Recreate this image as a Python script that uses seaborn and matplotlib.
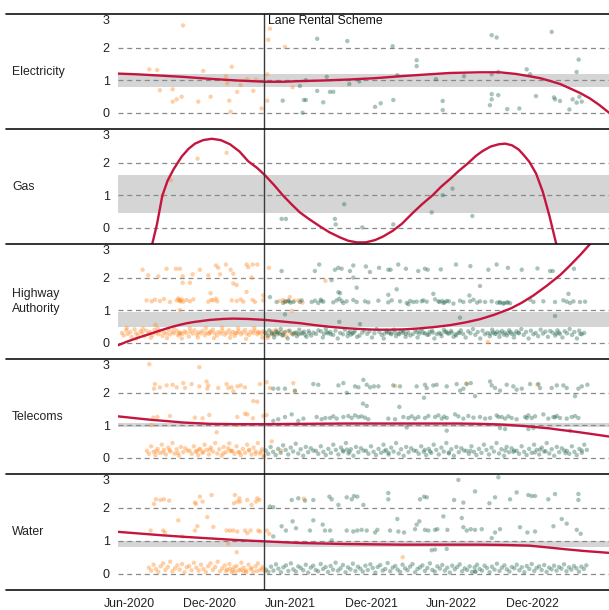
import matplotlib
matplotlib.use("Agg")
import matplotlib.pyplot as plt
from matplotlib.lines import Line2D
import pandas as pd
import seaborn as sns

# ---------------------------------------------------------------------------
# x axis is in months counted from 1 Jan 2020 (Jun-2020 = 5, Dec-2020 = 11 ...)
# ---------------------------------------------------------------------------
tick_months = [5, 11, 17, 23, 29, 35]
tick_labels = ["Jun-2020", "Dec-2020", "Jun-2021", "Dec-2021", "Jun-2022", "Dec-2022"]
scheme_start = 15.05
scheme_label = "Lane Rental Scheme"

utilities = ["Electricity", "Gas", "Highway\nAuthority", "Telecoms", "Water"]

# shaded reference range per utility
band_low = [0.80, 0.45, 0.48, 0.93, 0.82]
band_high = [1.18, 1.61, 0.94, 1.07, 1.00]

# smoothed trend per utility
elec_curve_m = [4.15, 5.5, 7.27, 9.0, 11.0, 13.0, 15.1, 16.5, 17.7, 19.5, 21.4, 23.3, 25.2, 27.0,
                28.9, 30.0, 31.1, 32.6, 33.8, 34.8, 35.6, 36.3, 37.1, 37.8, 38.6, 39.3, 40.0, 40.73]
elec_curve_v = [1.20, 1.18, 1.14, 1.10, 1.04, 0.99, 0.95, 0.95, 0.97, 0.99, 1.02, 1.06, 1.12, 1.17,
                1.22, 1.23, 1.24, 1.24, 1.19, 1.12, 1.06, 0.98, 0.88, 0.75, 0.60, 0.44, 0.24, 0.00]

gas_curve_m = [6.40, 6.70, 7.05, 7.45, 7.85, 8.30, 8.89, 9.40, 9.88, 10.50, 11.13, 11.80, 12.50,
               13.20, 13.85, 14.50, 15.10, 15.80, 16.44, 17.10, 17.70, 18.40, 19.20, 19.90, 20.70,
               21.30, 21.95, 22.60, 23.30, 23.90, 24.60, 25.30, 26.10, 26.80, 27.60, 28.20, 28.90,
               29.50, 30.20, 30.80, 31.30, 31.90, 32.50, 33.00, 33.50, 34.00, 34.40, 34.80, 35.30,
               35.80, 36.30, 36.80, 37.30]
gas_curve_v = [-0.80, -0.50, 0.10, 0.98, 1.45, 1.80, 2.18, 2.42, 2.58, 2.69, 2.73, 2.69, 2.56,
               2.34, 2.04, 1.84, 1.61, 1.30, 0.99, 0.71, 0.47, 0.26, 0.04, -0.14, -0.30,
               -0.40, -0.45, -0.45, -0.38, -0.27, -0.10, 0.12, 0.45, 0.72, 1.00, 1.25, 1.50,
               1.73, 1.97, 2.20, 2.35, 2.49, 2.56, 2.58, 2.53, 2.40, 2.22, 2.02, 1.66,
               1.10, 0.35, -0.50, -1.30]

hw_curve_m = [4.15, 4.8, 5.41, 6.0, 6.53, 7.1, 7.65, 8.2, 8.76, 9.3, 9.88, 11.0, 12.0, 12.7, 13.8,
              15.1, 16.4, 17.7, 18.8, 19.9, 21.0, 22.2, 23.3, 24.4, 25.5, 26.6, 27.7, 28.9, 30.0,
              31.1, 32.2, 33.4, 34.2, 35.1, 36.1, 37.1, 37.8, 38.6, 39.3, 39.9, 40.73]
hw_curve_v = [-0.08, 0.03, 0.12, 0.20, 0.27, 0.35, 0.42, 0.49, 0.55, 0.60, 0.64, 0.70, 0.73, 0.74,
              0.73, 0.70, 0.65, 0.60, 0.54, 0.49, 0.45, 0.42, 0.40, 0.40, 0.41, 0.44, 0.48, 0.54,
              0.62, 0.72, 0.86, 1.05, 1.22, 1.45, 1.75, 2.08, 2.36, 2.70, 3.02, 3.35, 3.85]

tc_curve_m = [4.15, 5.5, 6.7, 7.9, 9.0, 11.0, 13.0, 15.1, 18.0, 21.0, 24.0, 27.0, 29.5, 31.1, 32.6,
              33.4, 34.5, 35.5, 36.3, 37.0, 38.2, 39.4, 40.73]
tc_curve_v = [1.27, 1.21, 1.16, 1.12, 1.08, 1.04, 1.03, 1.03, 1.04, 1.05, 1.05, 1.05, 1.05, 1.04, 1.02,
              1.00, 0.97, 0.93, 0.90, 0.86, 0.80, 0.73, 0.65]

wt_curve_m = [4.15, 7.27, 9.0, 11.0, 13.0, 15.1, 17.7, 21.0, 25.2, 29.0, 31.1, 33.0, 34.8, 36.3,
              37.5, 38.8, 40.73]
wt_curve_v = [1.27, 1.17, 1.12, 1.07, 1.02, 0.98, 0.93, 0.90, 0.88, 0.88, 0.88, 0.87, 0.85, 0.79,
              0.74, 0.69, 0.63]

# ---------------------------------------------------------------------------
# incident ratings as (month, value); "pre" = before the scheme, "post" = after
# ---------------------------------------------------------------------------
elec_pre = [(9.00, 2.68), (6.48, 1.33), (7.07, 1.31), (7.27, 0.69), (8.22, 0.72), (8.22, 0.34),
            (8.52, 0.41), (8.89, 0.49), (10.13, 0.34), (10.50, 1.28), (11.05, 0.49), (12.19, 1.12),
            (12.29, 0.90), (12.44, 0.37), (12.54, 0.03), (12.62, 1.41), (13.03, 0.64), (13.29, 0.85),
            (13.78, 1.03), (14.23, 0.67), (14.43, 1.02), (14.85, 0.13), (15.27, 1.18), (15.27, 0.37),
            (15.35, 2.24), (15.47, 2.58), (16.59, 2.02), (17.16, 0.78)]
elec_post = [(16.42, 0.37), (17.70, 0.82), (18.00, 0.39), (17.90, 0.00), (18.99, 2.27), (21.23, 2.20),
             (24.61, 2.04), (26.40, 1.61), (26.40, 1.43), (18.15, 1.00), (19.70, 1.10), (18.99, 0.67),
             (19.94, 0.64), (20.19, 0.64), (18.15, 0.39), (19.44, 0.32), (21.38, 0.88), (22.13, 0.96),
             (23.30, 0.18), (23.72, 0.29), (24.66, 0.39), (24.96, 1.15), (27.84, 1.03), (28.34, 0.36),
             (28.34, 0.08), (29.93, 1.12), (31.99, 2.38), (32.36, 2.31), (31.99, 1.18), (32.48, 1.25),
             (31.99, 0.57), (31.99, 0.41), (32.48, 0.54), (31.86, 0.23), (33.15, 0.11), (34.05, 0.13),
             (34.60, 1.33), (34.85, 1.18), (35.29, 0.51), (36.46, 2.48), (36.63, 0.47), (36.71, 0.41),
             (37.08, 0.36), (37.78, 0.10), (38.02, 0.41), (38.32, 0.31), (38.32, 1.25), (38.47, 1.63),
             (38.70, 0.34), (38.52, 0.49)]

gas_pre = [(7.45, 0.98), (8.09, 1.46), (10.08, 2.12), (12.24, 2.30)]
gas_post = [(16.34, 0.27), (16.66, 0.27), (20.31, 0.27), (20.37, 0.10), (21.00, 0.72), (22.35, 0.01),
            (24.66, 0.10), (27.52, 0.47), (28.34, 1.00), (29.07, 1.20), (30.55, 0.36)]

hw_pre = [
    # upper cluster
    (5.98, 2.24), (6.40, 2.07), (7.15, 2.04), (7.77, 2.27), (8.47, 2.27), (8.76, 2.27), (8.97, 2.04),
    (9.71, 2.10), (10.25, 2.24), (10.88, 2.07), (11.45, 2.37), (11.62, 2.30), (11.75, 2.10),
    (12.19, 2.40), (12.54, 2.24), (12.74, 2.12), (13.73, 2.40), (13.85, 2.32), (14.18, 2.40),
    (14.53, 2.40), (14.10, 2.00), (12.74, 1.82), (12.99, 1.77), (8.97, 1.84), (9.51, 1.84),
    (15.40, 2.30), (19.60, 1.90),
    # middle cluster
    (6.28, 1.30), (6.66, 1.27), (6.90, 1.32), (7.27, 1.28), (7.57, 1.34), (8.02, 1.25), (8.52, 1.30),
    (8.64, 1.36), (8.76, 1.28), (8.89, 1.33), (9.01, 1.26), (9.26, 1.31), (9.51, 1.27), (9.76, 1.33),
    (10.88, 1.26), (11.05, 1.52), (11.25, 1.30), (11.45, 1.35), (11.54, 1.27), (12.62, 1.30),
    (12.99, 1.28), (13.29, 1.33), (13.48, 1.26), (13.73, 1.56), (14.18, 1.31), (14.35, 1.25),
    (14.97, 1.45), (8.70, 1.31), (8.82, 1.27), (11.10, 1.31), (14.97, 1.30), (8.76, 1.00),
    (6.95, 0.55), (16.20, 1.28), (16.45, 1.31), (16.70, 1.26), (16.95, 1.40), (17.30, 1.29),
    (17.60, 1.30), (16.60, 1.27), (17.90, 1.23), (17.10, 0.98),
    # lower cluster
    (4.45, .30), (4.58, .22), (4.77, .38), (4.88, .27), (5.06, .33), (5.17, .18), (5.38, .41),
    (5.49, .29), (5.63, .24), (5.84, .35), (5.93, .31), (6.12, .20), (6.24, .37), (6.43, .28),
    (6.52, .33), (6.71, .23), (6.86, .40), (6.98, .30), (7.17, .26), (7.28, .36), (7.47, .21),
    (7.58, .32), (7.76, .28), (7.92, .39), (8.03, .25), (8.21, .33), (8.33, .29), (8.52, .37),
    (8.63, .22), (8.81, .31), (8.94, .27), (9.12, .35), (9.23, .30), (9.42, .19), (9.53, .34),
    (9.72, .28), (9.84, .38), (10.03, .25), (10.13, .32), (10.32, .29), (10.44, .36), (10.62, .23),
    (10.73, .31), (10.92, .27), (11.04, .34), (11.22, .40), (11.33, .29), (11.52, .22), (11.63, .33),
    (11.82, .28), (11.93, .36), (12.12, .25), (12.23, .31), (12.42, .38), (12.53, .27), (12.72, .33),
    (12.84, .21), (13.02, .30), (13.13, .35), (13.32, .26), (13.43, .32), (13.62, .39), (13.73, .28),
    (13.92, .24), (14.03, .34), (14.22, .30), (14.33, .37), (14.52, .26), (14.63, .31), (14.82, .28),
    (14.93, .35), (4.80, .45), (5.50, .12), (6.00, .43), (6.60, .15), (7.10, .44), (7.80, .14),
    (8.30, .46), (8.90, .13), (9.50, .44), (10.10, .16), (10.70, .45), (11.30, .14), (11.90, .46),
    (12.50, .15), (13.10, .44), (13.70, .12), (14.30, .45), (14.90, .16), (8.70, .30), (8.75, .26),
    (11.00, .31), (12.90, .29), (14.60, .33), (15.20, .30), (15.40, .22), (15.60, .35), (15.80, .28),
    (16.00, .25), (16.30, .33), (16.50, .29), (16.80, .36), (17.00, .31), (17.20, .26), (17.50, .30),
    (15.30, .14), (15.90, .40), (16.70, .20), (31.70, 0.02)]

hw_post = [
    # upper cluster
    (16.34, 2.20), (18.82, 2.20), (19.14, 2.40), (20.31, 2.24), (20.56, 2.30), (20.81, 2.27),
    (21.43, 2.20), (21.68, 2.37), (22.62, 2.34), (22.92, 2.17), (24.29, 2.24), (24.46, 2.24),
    (25.03, 2.40), (25.60, 2.27), (26.52, 2.20), (27.02, 2.27), (27.22, 2.24), (29.33, 2.40),
    (31.74, 2.24), (32.36, 2.40), (34.23, 2.24), (36.34, 2.20), (36.54, 2.20), (38.12, 2.27),
    (20.06, 1.92), (21.68, 2.00), (21.93, 1.69), (24.91, 1.64), (31.12, 1.74), (23.60, 2.30),
    (28.20, 2.25), (30.40, 2.35), (33.20, 2.30), (35.40, 2.28),
    # middle cluster
    (15.47, 1.40), (15.97, 1.25), (16.46, 1.22), (16.59, 1.26), (16.83, 1.29), (17.21, 1.25),
    (17.71, 1.25), (17.83, 1.30), (18.58, 1.25), (18.83, 1.29), (19.07, 1.22), (19.25, 1.32),
    (19.45, 1.26), (20.19, 1.24), (20.44, 1.30), (20.64, 1.35), (20.81, 1.28), (20.94, 1.22),
    (21.18, 1.27), (21.68, 1.31), (21.93, 1.25), (22.55, 1.27), (23.55, 1.29), (24.29, 1.24),
    (24.54, 1.30), (25.16, 1.27), (25.66, 1.22), (25.78, 1.18), (25.91, 1.28), (26.15, 1.25),
    (26.78, 1.27), (26.90, 1.30), (27.15, 1.26), (27.77, 1.33), (28.02, 1.27), (28.39, 1.22),
    (28.64, 1.28), (29.14, 1.20), (29.63, 1.29), (29.88, 1.25), (30.38, 1.27), (30.63, 1.32),
    (31.12, 1.27), (31.50, 1.25), (31.99, 1.27), (32.61, 1.22), (32.86, 1.20), (33.11, 1.23),
    (33.36, 1.21), (34.85, 1.32), (35.10, 1.25), (35.84, 1.27), (36.71, 1.25), (37.33, 1.30),
    (37.58, 1.26), (37.83, 1.22), (38.08, 1.27), (38.57, 1.25), (38.95, 1.26), (20.57, 1.55),
    (20.69, 1.52), (24.29, 1.47), (27.64, 1.50), (30.33, 1.45), (37.71, 1.50), (20.64, 0.64),
    (22.18, 0.57), (29.63, 0.77), (36.71, 0.82), (16.59, 0.87), (28.10, 1.25), (28.30, 1.28),
    (28.50, 1.24), (28.80, 1.27), (32.40, 1.23), (32.60, 1.25), (32.90, 1.22), (33.20, 1.24),
    (16.90, 1.27), (17.00, 1.23), (19.30, 1.28), (22.80, 1.24), (26.40, 1.26), (30.90, 1.23),
    # lower cluster
    (15.12, .31), (15.30, .22), (15.41, .38), (15.63, .27), (15.78, .16), (15.92, .35), (16.10, .29),
    (16.27, .42), (16.45, .24), (16.58, .33), (16.79, .13), (16.93, .37), (17.15, .26), (17.28, .30),
    (17.47, .20), (17.66, .40), (17.80, .28), (18.02, .34), (18.19, .18), (18.36, .36), (18.55, .22),
    (18.71, .31), (18.90, .27), (19.08, .38), (19.27, .35), (19.41, .16), (19.63, .42), (19.80, .29),
    (19.96, .33), (20.18, .24), (20.35, .37), (20.52, .13), (20.70, .30), (20.91, .26), (21.05, .40),
    (21.26, .20), (21.43, .34), (21.61, .28), (21.80, .36), (21.97, .18), (22.14, .22), (22.35, .31),
    (22.50, .38), (22.72, .27), (22.88, .35), (23.07, .16), (23.25, .29), (23.41, .42), (23.62, .33),
    (23.79, .24), (23.95, .13), (24.16, .37), (24.33, .30), (24.50, .26), (24.70, .40), (24.86, .20),
    (25.05, .28), (25.23, .34), (25.40, .36), (25.58, .18), (25.77, .31), (25.93, .22), (26.12, .27),
    (26.30, .38), (26.47, .16), (26.66, .35), (26.82, .42), (27.01, .29), (27.19, .24), (27.36, .33),
    (27.55, .37), (27.72, .13), (27.90, .26), (28.08, .30), (28.26, .20), (28.43, .40), (28.62, .34),
    (28.80, .28), (28.97, .36), (29.15, .18), (29.33, .22), (29.52, .31), (29.69, .38), (29.87, .27),
    (30.05, .16), (30.24, .35), (30.41, .29), (30.60, .42), (30.77, .24), (30.95, .33), (31.14, .13),
    (31.31, .37), (31.49, .26), (31.68, .30), (31.85, .20), (32.03, .40), (32.21, .28), (32.40, .34),
    (32.57, .18), (32.75, .36), (32.94, .31), (33.11, .22), (33.29, .38), (33.48, .27), (33.65, .16),
    (33.83, .35), (34.01, .29), (34.20, .42), (34.37, .24), (34.55, .33), (34.74, .13), (34.91, .37),
    (35.10, .26), (35.27, .30), (35.45, .20), (35.64, .40), (35.81, .28), (35.99, .34), (36.18, .18),
    (36.35, .36), (36.53, .31), (36.72, .22), (36.89, .38), (37.07, .27), (37.26, .16), (37.43, .35),
    (37.61, .29), (37.80, .42), (37.97, .24), (38.15, .33), (38.34, .13), (38.51, .37), (38.70, .26),
    (38.88, .30), (15.60, .30), (15.80, .25), (16.00, .33), (16.20, .28), (16.40, .22), (17.40, .31),
    (17.60, .26), (17.90, .30), (18.10, .24), (18.40, .29), (19.50, .27), (19.70, .32), (20.00, .26),
    (21.30, .30), (21.50, .25), (21.70, .31), (24.00, .28), (24.20, .33), (24.50, .29), (24.80, .31),
    (25.10, .26), (25.40, .30), (25.60, .27), (26.40, .32), (26.60, .28), (26.90, .30), (27.30, .25),
    (27.60, .31), (28.20, .27), (28.50, .33), (28.70, .29), (29.00, .31), (29.30, .26), (29.60, .30),
    (31.90, .28), (32.10, .32), (32.30, .27), (32.60, .30), (32.90, .25), (33.20, .29), (33.40, .33),
    (33.70, .27), (34.00, .31), (36.80, .28), (37.00, .31), (38.60, .27)]

tc_pre = [
    (6.48, 2.87), (10.21, 2.78), (6.83, 2.12), (6.90, 2.26), (7.27, 2.16), (7.77, 2.22), (8.22, 2.24),
    (8.52, 2.16), (9.01, 2.29), (9.14, 2.14), (9.63, 2.26), (10.21, 2.19), (10.75, 2.34), (10.88, 2.22),
    (10.80, 2.12), (11.62, 2.14), (12.24, 2.26), (12.37, 2.14), (12.61, 2.16), (12.74, 2.04),
    (13.04, 2.19), (13.29, 2.22), (13.61, 2.16), (14.73, 2.26), (15.22, 2.32), (15.47, 2.14),
    (17.21, 2.29), (17.33, 2.04), (24.80, 2.20), (30.10, 2.28), (35.40, 2.24),
    (6.65, 1.00), (6.78, 1.23), (7.08, 1.25), (8.02, 1.28), (9.88, 1.23), (10.45, 1.21), (10.95, 1.31),
    (13.04, 1.25), (13.61, 1.35), (13.78, 1.33), (14.97, 1.28), (15.22, 1.31), (14.53, 1.72),
    (14.23, 1.74), (11.50, 0.78), (13.00, 1.00), (14.20, 1.21),
    (6.30, .21), (6.45, .12), (6.62, .35), (6.80, .18), (6.93, .08), (7.10, .27), (7.26, .15),
    (7.41, .40), (7.58, .24), (7.72, .10), (7.90, .31), (8.05, .19), (8.21, .45), (8.37, .13),
    (8.52, .26), (8.70, .06), (8.84, .33), (9.01, .17), (9.16, .29), (9.33, .22), (9.48, .21),
    (9.65, .12), (9.80, .35), (9.96, .18), (10.12, .08), (10.27, .27), (10.44, .15), (10.60, .40),
    (10.75, .24), (10.92, .10), (11.07, .31), (11.23, .19), (11.39, .45), (11.55, .13), (11.70, .26),
    (11.87, .06), (12.02, .33), (12.18, .17), (12.35, .29), (12.50, .22), (12.66, .21), (12.82, .12),
    (12.98, .35), (13.13, .18), (13.30, .08), (13.45, .27), (13.61, .15), (13.77, .40), (13.93, .24),
    (14.09, .10), (14.25, .31), (14.41, .19), (14.57, .45), (14.72, .13), (14.88, .26), (15.03, .06),
    (7.00, .20), (7.50, .16), (8.00, .23), (8.60, .14), (10.00, .21), (10.50, .18), (11.00, .25),
    (12.00, .13), (12.44, .44), (12.60, .20), (13.20, .16), (13.90, .22), (14.40, .12), (14.80, .18),
    (15.00, .03), (10.18, .25), (15.60, .50), (16.30, .22)]

tc_post = [
    # upper cluster
    (15.72, 2.12), (16.09, 2.12), (16.59, 2.12), (17.33, 2.06), (18.70, 2.26), (19.07, 2.24),
    (20.57, 2.22), (20.94, 2.29), (21.19, 1.99), (21.81, 2.19), (22.06, 2.16), (22.43, 2.39),
    (22.68, 2.24), (22.93, 2.16), (23.22, 2.19), (23.55, 2.19), (24.66, 2.22), (25.16, 2.19),
    (26.40, 2.19), (27.02, 2.24), (27.15, 2.14), (26.95, 1.84), (27.64, 2.22), (27.89, 2.24),
    (28.64, 2.19), (29.38, 2.26), (29.63, 2.06), (29.88, 2.12), (30.13, 2.26), (30.43, 2.29),
    (30.75, 1.89), (31.87, 2.34), (31.99, 2.22), (32.24, 2.14), (32.61, 2.06), (33.11, 2.24),
    (33.60, 2.19), (33.85, 2.09), (34.23, 2.12), (34.85, 2.26), (35.47, 2.26), (35.59, 2.14),
    (36.46, 2.14), (36.84, 2.22), (37.33, 2.22), (37.58, 2.14), (38.20, 1.89), (38.45, 2.12),
    (38.70, 2.19), (39.12, 2.24), (22.68, 1.59), (25.11, 1.56),
    # middle cluster
    (15.72, 1.13), (16.09, 1.18), (16.59, 1.25), (17.09, 1.33), (17.58, 1.13), (17.96, 1.20),
    (18.95, 1.25), (19.32, 1.18), (19.95, 1.22), (20.19, 1.27), (20.44, 1.20), (20.94, 1.25),
    (21.31, 1.28), (21.56, 1.22), (21.81, 1.30), (22.06, 1.25), (22.30, 1.27), (22.55, 1.23),
    (22.80, 1.18), (24.29, 1.20), (24.79, 1.18), (25.41, 1.25), (25.78, 1.22), (26.03, 1.27),
    (26.28, 1.20), (26.53, 1.25), (27.02, 1.22), (27.27, 1.28), (27.77, 1.25), (28.02, 1.30),
    (28.27, 1.20), (28.64, 1.22), (29.26, 1.33), (29.51, 1.27), (29.88, 1.20), (30.25, 1.28),
    (30.63, 1.23), (31.12, 1.25), (31.50, 1.20), (31.87, 1.22), (32.36, 1.30), (32.74, 1.25),
    (32.99, 1.20), (33.23, 1.27), (33.48, 1.22), (33.85, 1.18), (34.48, 1.25), (34.72, 1.30),
    (34.97, 1.22), (35.22, 1.27), (35.84, 1.33), (36.21, 1.20), (36.59, 1.25), (36.84, 1.28),
    (37.08, 1.22), (37.58, 1.20), (37.95, 1.25), (38.20, 1.28), (38.45, 1.22), (32.50, 1.25),
    (34.60, 1.22), (36.70, 1.24), (19.60, 1.22), (28.45, 1.26), (22.40, 1.66),
    (25.66, 0.93), (28.64, 0.83), (32.61, 0.91), (32.99, 0.88), (34.72, 0.88), (35.10, 0.91),
    (37.83, 0.83),
    # lower cluster
    (15.15, .22), (15.34, .12), (15.52, .33), (15.71, .18), (15.90, .08), (16.08, .27), (16.27, .15),
    (16.45, .38), (16.64, .24), (16.83, .10), (17.02, .31), (17.20, .19), (17.39, .43), (17.58, .13),
    (17.76, .26), (17.95, .06), (18.14, .33), (18.32, .17), (18.51, .29), (18.70, .22), (18.89, .21),
    (19.07, .12), (19.26, .35), (19.45, .18), (19.63, .08), (19.82, .27), (20.01, .15), (20.19, .40),
    (20.38, .24), (20.57, .10), (20.76, .31), (20.94, .19), (21.13, .45), (21.32, .13), (21.50, .26),
    (21.69, .06), (21.88, .33), (22.06, .17), (22.25, .29), (22.44, .22), (22.63, .21), (22.81, .12),
    (23.00, .35), (23.19, .18), (23.37, .08), (23.56, .27), (23.75, .15), (23.93, .40), (24.12, .24),
    (24.31, .10), (24.50, .31), (24.68, .19), (24.87, .45), (25.06, .13), (25.24, .26), (25.43, .06),
    (25.62, .33), (25.80, .17), (25.99, .29), (26.18, .22), (26.37, .21), (26.55, .12), (26.74, .35),
    (26.93, .18), (27.11, .08), (27.30, .27), (27.49, .15), (27.67, .40), (27.86, .24), (28.05, .10),
    (28.24, .31), (28.42, .19), (28.61, .45), (28.80, .13), (28.98, .26), (29.17, .06), (29.36, .33),
    (29.54, .17), (29.73, .29), (29.92, .22), (30.11, .21), (30.29, .12), (30.48, .35), (30.67, .18),
    (30.85, .08), (31.04, .27), (31.23, .15), (31.41, .40), (31.60, .24), (31.79, .10), (31.98, .31),
    (32.16, .19), (32.35, .45), (32.54, .13), (32.72, .26), (32.91, .06), (33.10, .33), (33.28, .17),
    (33.47, .29), (33.66, .22), (33.85, .21), (34.03, .12), (34.22, .35), (34.41, .18), (34.59, .08),
    (34.78, .27), (34.97, .15), (35.15, .40), (35.34, .24), (35.53, .10), (35.72, .31), (35.90, .19),
    (36.09, .45), (36.28, .13), (36.46, .26), (36.65, .06), (36.84, .33), (37.02, .17), (37.21, .29),
    (37.40, .22), (37.59, .21), (37.77, .12), (37.96, .35), (38.15, .18), (38.33, .08), (38.52, .27),
    (38.71, .15), (38.89, .40), (39.08, .24), (20.90, .22), (21.20, .25), (21.40, .18), (24.00, .20),
    (24.30, .15), (27.00, .24), (27.40, .19), (28.80, .16), (30.40, .21), (33.00, .22), (33.60, .18),
    (35.20, .16), (35.60, .25), (36.00, .20), (37.50, .14), (38.70, .22)]

wt_pre = [
    (6.83, 2.12), (6.98, 2.26), (7.32, 2.24), (7.57, 2.26), (7.97, 2.22), (9.88, 2.16), (9.96, 2.12),
    (10.25, 2.34), (10.45, 2.19), (11.12, 2.39), (13.04, 2.19), (13.19, 2.29), (12.86, 2.39),
    (12.79, 2.14), (13.24, 2.19), (13.78, 2.24), (14.10, 2.09), (14.43, 2.19), (14.53, 2.29),
    (14.68, 2.24), (18.00, 2.28),
    (8.64, 1.62), (6.58, 1.31), (7.52, 1.31), (7.65, 1.25), (8.96, 1.13), (9.88, 1.31), (10.06, 1.44),
    (10.80, 1.72), (11.25, 1.42), (12.24, 1.31), (12.49, 1.31), (12.74, 1.31), (13.04, 1.28),
    (13.61, 1.31), (13.78, 1.23), (14.03, 1.31), (14.60, 1.31), (14.73, 1.28), (15.22, 1.31),
    (15.42, 1.21), (12.37, 0.91), (12.99, 0.65),
    (6.45, .18), (6.62, .09), (6.80, .27), (6.98, .14), (7.15, .05), (7.33, .22), (7.51, .31),
    (7.68, .11), (7.86, .20), (8.04, .36), (8.21, .07), (8.39, .16), (8.57, .25), (8.74, .12),
    (8.92, .29), (9.10, .04), (9.27, .19), (9.45, .23), (9.63, .10), (9.80, .33), (9.98, .18),
    (10.16, .09), (10.33, .27), (10.51, .14), (10.69, .05), (10.86, .22), (11.04, .31), (11.22, .11),
    (11.39, .20), (11.57, .36), (11.75, .07), (11.92, .16), (12.10, .25), (12.28, .12), (12.45, .29),
    (12.63, .04), (12.81, .19), (12.98, .23), (13.16, .10), (13.34, .33), (13.51, .18), (13.69, .09),
    (13.87, .27), (14.04, .14), (14.22, .05), (14.40, .22), (14.57, .31), (14.75, .11), (14.93, .20),
    (15.08, .06), (12.20, .08), (12.50, .15), (12.90, .06), (13.30, .12), (13.70, .04), (14.10, .17),
    (14.50, .08), (14.90, .13), (12.70, .10), (13.50, .07), (25.36, 0.50)]

wt_post = [
    # upper cluster
    (15.47, 2.04), (15.72, 2.02), (17.09, 2.24), (17.58, 2.29), (18.08, 2.22), (18.70, 2.24),
    (19.90, 2.34), (20.07, 2.26), (20.57, 2.09), (21.19, 2.32), (21.56, 2.26), (21.73, 2.36),
    (21.98, 2.34), (22.43, 2.09), (24.29, 2.45), (24.29, 2.26), (26.65, 2.26), (26.95, 2.34),
    (27.15, 2.32), (29.19, 2.24), (29.51, 2.85), (29.88, 2.16), (30.75, 2.50), (31.82, 2.14),
    (32.24, 2.32), (32.49, 2.93), (33.36, 2.26), (33.85, 2.47), (34.72, 2.39), (34.97, 2.36),
    (35.22, 2.36), (36.21, 2.26), (36.71, 2.42), (38.45, 2.42), (38.45, 2.24),
    # middle cluster
    (15.72, 1.13), (16.34, 1.44), (16.66, 1.31), (17.16, 1.59), (17.41, 1.38), (18.45, 1.31),
    (18.70, 1.62), (19.40, 1.49), (19.57, 1.31), (19.95, 1.31), (21.19, 1.31), (21.68, 1.28),
    (21.98, 1.31), (22.30, 1.33), (22.68, 1.31), (23.30, 1.25), (23.47, 1.33), (24.42, 1.31),
    (24.96, 1.66), (25.04, 1.28), (25.46, 1.25), (26.28, 1.35), (26.40, 1.49), (26.60, 1.59),
    (27.02, 1.33), (27.27, 1.31), (27.77, 1.33), (27.94, 1.35), (28.39, 1.74), (28.69, 1.33),
    (29.76, 1.69), (29.88, 1.41), (30.13, 1.31), (30.43, 1.35), (30.75, 1.33), (31.25, 1.35),
    (31.99, 1.08), (32.24, 1.25), (32.61, 1.35), (34.10, 1.41), (34.65, 1.25), (35.22, 1.28),
    (36.59, 1.44), (37.21, 1.66), (37.58, 1.52), (38.33, 1.33), (38.62, 1.21),
    (20.07, 1.01), (27.52, 0.71), (27.77, 0.73), (28.64, 0.75),
    # lower cluster
    (15.18, .12), (15.36, .05), (15.55, .21), (15.73, .09), (15.92, .28), (16.10, .15), (16.29, .04),
    (16.47, .19), (16.66, .25), (16.84, .08), (17.03, .31), (17.21, .13), (17.40, .06), (17.58, .22),
    (17.77, .17), (17.95, .10), (18.14, .27), (18.32, .03), (18.51, .18), (18.69, .24), (18.88, .11),
    (19.06, .07), (19.25, .29), (19.43, .14), (19.62, .20), (19.80, .05), (19.99, .23), (20.17, .12),
    (20.36, .33), (20.54, .09), (20.73, .16), (20.91, .26), (21.10, .04), (21.28, .19), (21.47, .13),
    (21.65, .30), (21.84, .08), (22.02, .21), (22.21, .15), (22.39, .06), (22.58, .24), (22.76, .11),
    (22.95, .28), (23.13, .17), (23.32, .03), (23.50, .20), (23.69, .26), (23.87, .09), (24.06, .14),
    (24.24, .32), (24.43, .07), (24.61, .18), (24.80, .23), (24.98, .12), (25.17, .05), (25.35, .27),
    (25.54, .16), (25.72, .10), (25.91, .21), (26.09, .29), (26.28, .04), (26.46, .14), (26.65, .19),
    (26.83, .25), (27.02, .08), (27.20, .17), (27.39, .31), (27.57, .11), (27.76, .06), (27.94, .22),
    (28.13, .15), (28.31, .26), (28.50, .09), (28.68, .18), (28.87, .03), (29.05, .24), (29.24, .13),
    (29.42, .20), (29.61, .28), (29.79, .07), (29.98, .16), (30.16, .11), (30.35, .22), (30.53, .05),
    (30.72, .19), (30.90, .27), (31.09, .14), (31.27, .09), (31.46, .24), (31.64, .17), (31.83, .04),
    (32.01, .21), (32.20, .12), (32.38, .30), (32.57, .08), (32.75, .18), (32.94, .25), (33.12, .13),
    (33.31, .06), (33.49, .20), (33.68, .16), (33.86, .27), (34.05, .10), (34.23, .19), (34.42, .04),
    (34.60, .23), (34.79, .14), (34.97, .29), (35.16, .08), (35.34, .17), (35.53, .22), (35.71, .11),
    (35.90, .26), (36.08, .05), (36.27, .18), (36.45, .13), (36.64, .24), (36.82, .09), (37.01, .20),
    (37.19, .15), (37.38, .28), (37.56, .07), (37.75, .19), (37.93, .12), (38.12, .23), (38.30, .16),
    (38.49, .06), (38.67, .21), (38.86, .14), (39.04, .25), (30.75, .07), (30.78, .05)]

curves = [(elec_curve_m, elec_curve_v), (gas_curve_m, gas_curve_v), (hw_curve_m, hw_curve_v),
          (tc_curve_m, tc_curve_v), (wt_curve_m, wt_curve_v)]
points = [(elec_pre, elec_post), (gas_pre, gas_post), (hw_pre, hw_post),
          (tc_pre, tc_post), (wt_pre, wt_post)]

# ---------------------------------------------------------------------------
sns.set_theme(style="white")
plt.rcParams["font.family"] = ["Liberation Sans", "DejaVu Sans"]

W, H = 609, 610
fig = plt.figure(figsize=(W / 100, H / 100), dpi=100)

edges = [14, 129, 244, 359, 474, 590]
x_left, x_right = 118, 609
xlim = (4.15, 40.73)
ylim = (-0.5, 3.03)
red = "#C4153F"
palette = {"pre": "#FF8A24", "post": "#2A6A51"}

axes = []
for i, name in enumerate(utilities):
    top, bot = edges[i], edges[i + 1]
    ax = fig.add_axes([x_left / W, 1 - bot / H, (x_right - x_left) / W, (bot - top) / H])
    axes.append(ax)

    ax.axhspan(band_low[i], band_high[i], color="#D5D5D5", lw=0, zorder=0)
    for g in (0, 1, 2):
        ax.axhline(g, color="#8A8A8A", lw=0.9, ls=(0, (4, 3)), zorder=1)

    pre, post = points[i]
    df = pd.DataFrame(
        [(m, v, "pre") for m, v in pre] + [(m, v, "post") for m, v in post],
        columns=["month", "value", "phase"])
    sns.scatterplot(data=df, x="month", y="value", hue="phase", palette=palette,
                    s=10, alpha=0.4, linewidth=0, legend=False, ax=ax, zorder=2)

    cm, cv = curves[i]
    sns.lineplot(x=cm, y=cv, color=red, lw=1.7, ax=ax, sort=False, estimator=None, zorder=4)

    ax.axvline(scheme_start, color="#3A3A3A", lw=1.0, zorder=5)

    ax.set_xlim(*xlim)
    ax.set_ylim(*ylim)
    for s in ax.spines.values():
        s.set_visible(False)
    ax.set_xlabel("")
    ax.set_ylabel("")
    ax.set_yticks([0, 1, 2, 3])
    ax.set_yticklabels(["0", "1", "2", "3"], fontsize=9, color="#222222")
    ax.get_yticklabels()[3].set_va("top")
    ax.tick_params(axis="y", length=0, pad=6)
    ax.set_xticks(tick_months)
    if i == len(utilities) - 1:
        ax.set_xticklabels(tick_labels, fontsize=8.8, color="#222222")
        ax.tick_params(axis="x", length=0, pad=6)
    else:
        ax.set_xticklabels([])
        ax.tick_params(axis="x", length=0)

    fig.text(12 / W, 1 - (top + bot) / 2 / H, name, ha="left", va="center",
             fontsize=8.8, color="#222222", linespacing=1.3)

axes[0].text(scheme_start + 0.25, 3.0, scheme_label, ha="left", va="top",
             fontsize=8.8, color="#111111", zorder=6)

# full-width separators between the panels
for y in edges:
    fig.add_artist(Line2D([6 / W, 1], [1 - y / H, 1 - y / H], color="#111111", lw=1.2))

fig.savefig("out.png", dpi=100)
